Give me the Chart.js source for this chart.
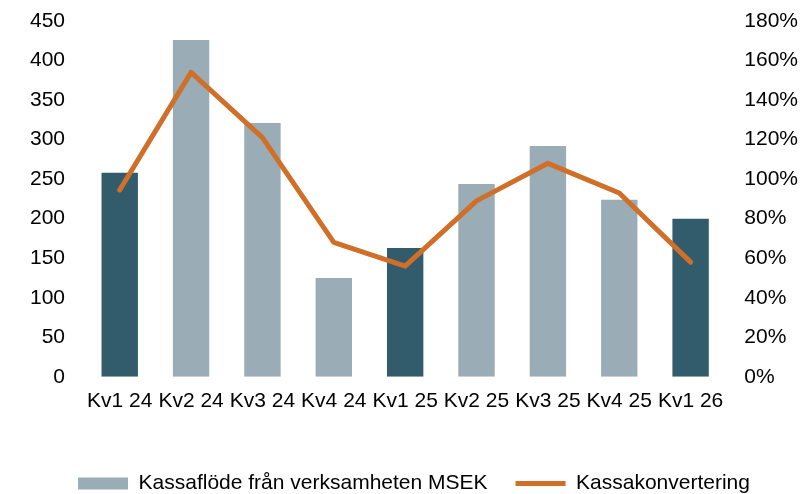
<!DOCTYPE html>
<html>
<head>
<meta charset="utf-8">
<script src="https://cdn.jsdelivr.net/npm/chart.js@4"></script>
<style>
  html, body { margin: 0; padding: 0; background: #fff; }
  #wrap { width: 800px; height: 494px; }
</style>
</head>
<body>
<div id="wrap"><canvas id="myChart"></canvas></div>
<script>
// data
const labels = ['Kv1 24', 'Kv2 24', 'Kv3 24', 'Kv4 24', 'Kv1 25', 'Kv2 25', 'Kv3 25', 'Kv4 25', 'Kv1 26']
const kassaflode = [258, 426, 321, 125, 163, 244, 292, 224, 200]
const kassakonvertering = [94.5, 154, 121, 68, 56, 89, 108, 93, 58]
const leftTicks = [0, 50, 100, 150, 200, 250, 300, 350, 400, 450]
const rightTicks = [0, 20, 40, 60, 80, 100, 120, 140, 160, 180]

const dark = '#325b6b'
const light = '#9aadb6'
const orange = '#d06f28'

// Kv1 bars are the dark ones
const barColors = labels.map(l => l.startsWith('Kv1') ? dark : light)

Chart.defaults.font.family = '"Liberation Sans", Arial, sans-serif'
Chart.defaults.font.size = 21
Chart.defaults.color = '#000'

const data = {
  labels: labels,
  datasets: [{
    type: 'line',
    label: 'Kassakonvertering',
    data: kassakonvertering,
    yAxisID: 'y1',
    borderColor: orange,
    backgroundColor: orange,
    borderWidth: 5,
    pointRadius: 0,
    pointStyle: 'line',
    tension: 0,
    borderCapStyle: 'round',
    borderJoinStyle: 'round',
    order: 0
  }, {
    type: 'bar',
    label: 'Kassaflöde från verksamheten MSEK',
    data: kassaflode,
    yAxisID: 'y',
    backgroundColor: barColors,
    borderWidth: 0,
    pointStyle: 'rect',
    categoryPercentage: 1,
    barPercentage: 0.51,
    order: 1
  }]
}

// no extra padding from tick labels, and padding only on the plot side
function noPad(scale) {
  scale.paddingLeft = 0
  scale.paddingRight = 0
  scale.paddingTop = 0
  scale.paddingBottom = 0
  if (!scale.isHorizontal()) scale.width -= scale.options.ticks.padding
}

const config = {
  type: 'bar',
  data: data,
  options: {
    responsive: true,
    maintainAspectRatio: false,
    animation: false,
    layout: { padding: { left: 30, right: 2, top: 21, bottom: -10 } },
    plugins: {
      tooltip: { enabled: false },
      legend: {
        position: 'bottom',
        reverse: true,
        labels: {
          usePointStyle: true,
          pointStyleWidth: 50,
          boxHeight: 12,
          padding: 28,
          color: '#000',
          generateLabels: (chart) => {
            const items = Chart.defaults.plugins.legend.labels.generateLabels(chart)
            items.forEach(it => {
              if (it.datasetIndex === 1) { it.fillStyle = light; it.strokeStyle = light; it.lineWidth = 0 }
              if (it.datasetIndex === 0) { it.strokeStyle = orange; it.lineWidth = 5 }
            })
            return items
          }
        }
      }
    },
    scales: {
      x: {
        grid: { display: false, drawTicks: false },
        border: { display: false },
        ticks: { padding: 12, maxRotation: 0, autoSkip: false },
        afterFit: (scale) => { noPad(scale); scale.height += 19 }
      },
      y: {
        position: 'left',
        min: 0,
        max: 450,
        afterBuildTicks: (axis) => { axis.ticks = leftTicks.map(v => ({ value: v })) },
        afterFit: noPad,
        grid: { display: false, drawTicks: false },
        border: { display: false },
        ticks: { padding: 19 }
      },
      y1: {
        position: 'right',
        min: 0,
        max: 180,
        afterBuildTicks: (axis) => { axis.ticks = rightTicks.map(v => ({ value: v })) },
        afterFit: noPad,
        grid: { display: false, drawTicks: false },
        border: { display: false },
        ticks: { padding: 18, callback: (v) => v + '%' }
      }
    }
  }
}

const myChart = new Chart(document.getElementById('myChart'), config)
</script>
</body>
</html>
